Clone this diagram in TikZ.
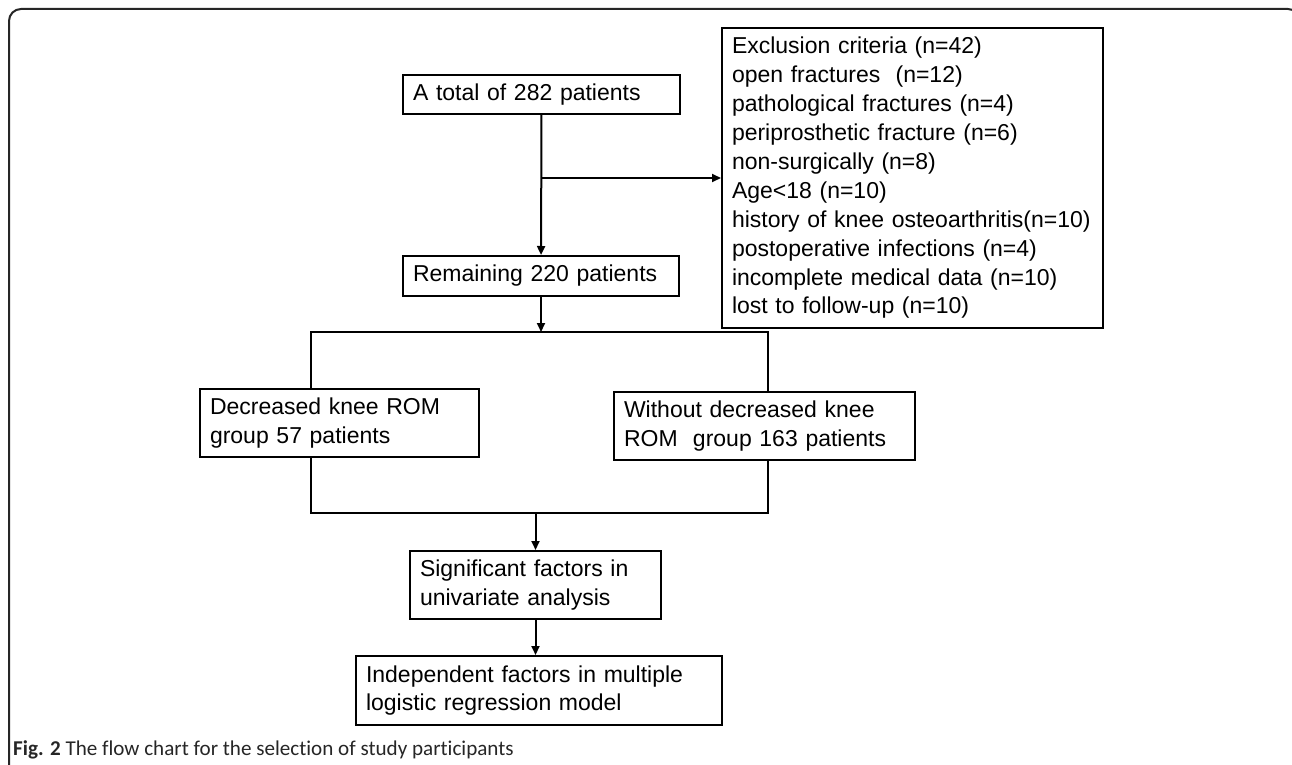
\documentclass[tikz,border=0pt]{standalone}
\usepackage{fontspec}
\setmainfont{Liberation Sans}
\newfontfamily\captionfont{Carlito}[Ligatures=NoCommon]
\usetikzlibrary{arrows.meta, positioning}

\tikzset{
    box/.style={rectangle, draw, line width=2pt, align=left, anchor=north west,
        inner xsep=10pt, inner ysep=0pt, font=\fontsize{23pt}{28.9pt}\selectfont},
    link/.style={line width=2pt},
    arrow/.style={link, -{Triangle[length=9pt, width=8pt]}}
}

\begin{document}
\begin{tikzpicture}[x=1pt, y=-1pt]
    \useasboundingbox (0,0) rectangle (1292,765);
    % outer frame
    \begin{scope}
        \clip (0,0) rectangle (1292,765);
        \draw[line width=2pt, black!85, rounded corners=12pt] (9,9) rectangle (1300,800);
    \end{scope}

    \node[box, text width=257pt, minimum height=39pt] (total) at (402,74) {A total of 282 patients};
    \node[box, text width=256pt, minimum height=40pt, below=140pt of total.south west, anchor=north west] (remain) {Remaining 220 patients};
    \node[box, text width=361pt, minimum height=300pt] (excl) at (721,27) {
        Exclusion criteria (n=42)\\
        open fractures~~(n=12)\\
        pathological fractures (n=4)\\
        periprosthetic fracture (n=6)\\
        non-surgically (n=8)\\
        Age<18 (n=10)\\
        history of knee osteoarthritis(n=10)\\
        postoperative infections (n=4)\\
        incomplete medical data (n=10)\\
        lost to follow-up (n=10)
    };
    \node[box, text width=259pt, minimum height=68pt] (decreased) at (199,388) {
        Decreased knee ROM\\
        group 57 patients
    };
    \node[box, text width=281pt, minimum height=68pt] (without) at (613,391) {
        Without decreased knee\\
        ROM~~group 163 patients
    };
    \node[box, text width=231pt, minimum height=68pt] (signif) at (409,550) {
        Significant factors in\\
        univariate analysis
    };
    \node[box, text width=346pt, minimum height=69pt, below=35pt of signif.south west, xshift=-54pt, anchor=north west] (indep) {
        Independent factors in multiple\\
        logistic regression model
    };

    \coordinate (barL) at (311,332);
    \coordinate (barR) at (768,332);
    \coordinate (joinL) at (311,513);
    \coordinate (joinR) at (768,513);

    \draw[arrow] (total) -- (remain);
    \draw[arrow] (total.south |- excl.west) -- (excl.west);
    \draw[arrow] (remain.south) -- (remain.south |- barL);
    \draw[link] (barL |- decreased.north) -- (barL) -- (barR) -- (barR |- without.north);
    \draw[link] (barL |- decreased.south) -- (joinL) -- (joinR) -- (barR |- without.south);
    \draw[arrow] (signif.north |- joinL) -- (signif.north);
    \draw[arrow] (signif.south) -- (signif.south |- indep.north);

    \node[anchor=base west, inner sep=0pt, text=black!85, font=\captionfont\fontsize{21.1pt}{23pt}\selectfont] (caption) at (13,755)
        {\textbf{Fig. 2} The flow chart for the selection of study participants};
\end{tikzpicture}
\end{document}
